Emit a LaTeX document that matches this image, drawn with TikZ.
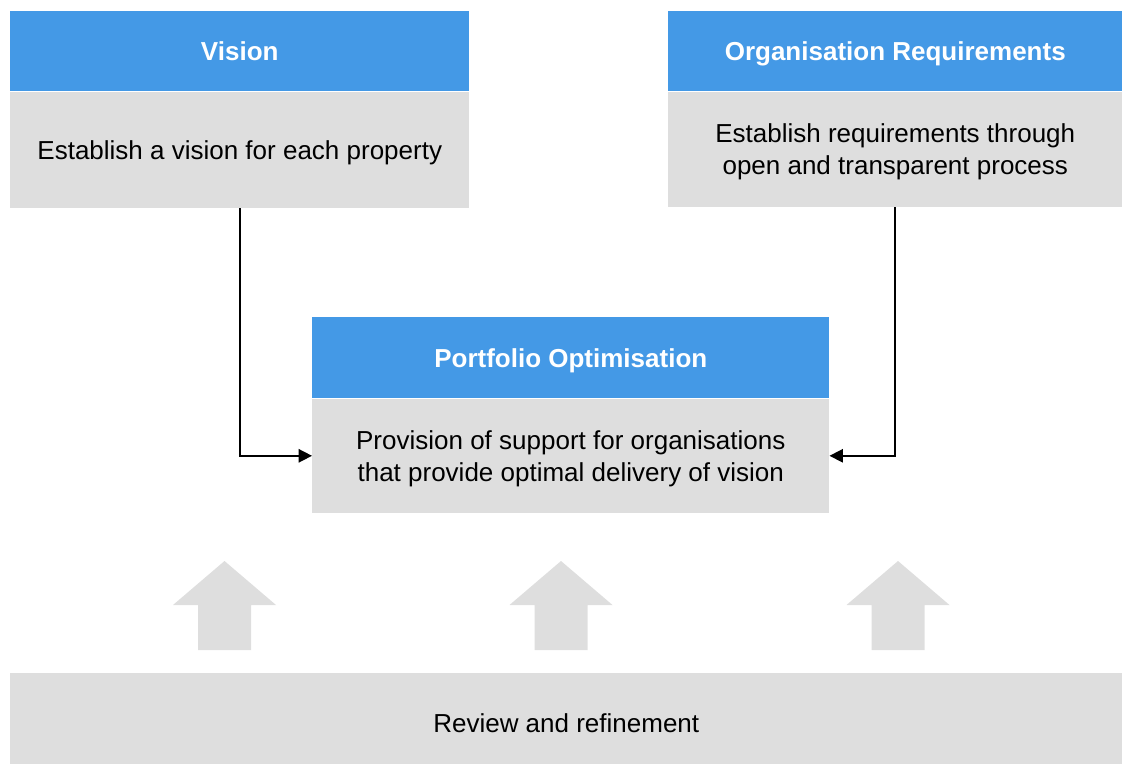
\documentclass[tikz,border=0pt]{standalone}
\usepackage{fontspec}
\setmainfont{Liberation Sans}
\usetikzlibrary{arrows.meta}
\definecolor{headblue}{RGB}{68,153,230}
\definecolor{bodygray}{RGB}{222,222,222}
\newcommand{\boxfont}{\fontsize{19.5}{24}\selectfont}

\begin{document}
\begin{tikzpicture}[x = 0.75pt, y = -0.75pt,
		head/.style = {fill = headblue, text = white, font = \boxfont\bfseries, minimum height = 60pt, text height = 14.5pt, text depth = 0pt, anchor = north west, inner sep = 0pt},
		body/.style = {fill = bodygray, font = \boxfont, align = center, text depth = 0pt, anchor = north west, inner sep = 0pt},
		link/.style = {-{Triangle[length = 10pt, width = 10pt]}, line width = 1.2pt}]
		\useasboundingbox (0,0) rectangle (1122,764);
		
		\node [head, minimum width = 344.25pt] (vision) at (10,11) {Vision};
		\node [body, minimum width = 344.25pt, minimum height = 87pt] (visionbody) at (vision.south west) {Establish a vision for each property};
		
		\node [head, minimum width = 340.5pt] (org) at (668,11) {Organisation Requirements};
		\node [body, minimum width = 340.5pt, minimum height = 86.25pt] (orgbody) at (org.south west) {Establish requirements through\\open and transparent process};
		
		\node [head, minimum width = 387.75pt, minimum height = 60.75pt] (port) at (312,317) {Portfolio Optimisation};
		\node [body, minimum width = 387.75pt, minimum height = 85.5pt] (portbody) at (port.south west) {Provision of support for organisations\\that provide optimal delivery of vision};
		
		\node [body, minimum width = 834pt, minimum height = 68.25pt, text height = 20pt] (review) at (10,673) {Review and refinement};
		
		\draw [link] (visionbody.south) |- (portbody.west);
		\draw [link] (orgbody.south) |- (portbody.east);
		
		\foreach \c in {224.5, 561, 898}
			\fill [bodygray] (\c-26.5,650) -- (\c-26.5,605) -- (\c-51.5,605) -- (\c,561) -- (\c+51.5,605) -- (\c+26.5,605) -- (\c+26.5,650) -- cycle;
	\end{tikzpicture}
\end{document}
